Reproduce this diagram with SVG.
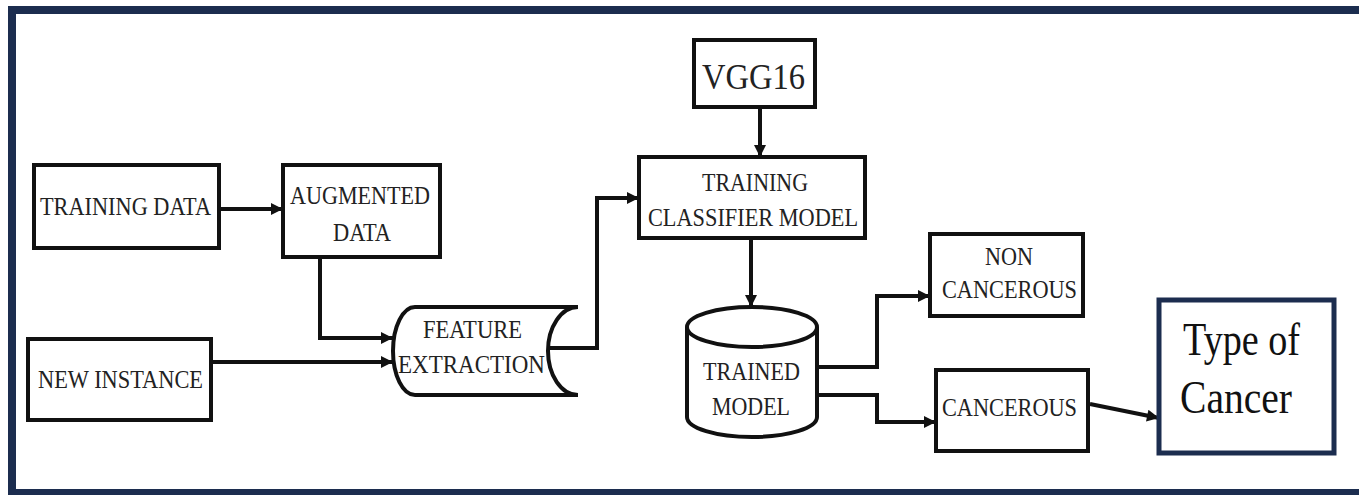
<svg xmlns="http://www.w3.org/2000/svg" width="1359" height="495" viewBox="0 0 1359 495">
<style>
.box{fill:#fff;stroke:#111;stroke-width:4}
text{font-family:'Liberation Serif','DejaVu Serif','Times New Roman',serif;font-size:25px;fill:#222;text-anchor:middle}
.c{fill:none;stroke:#111;stroke-width:4;marker-end:url(#ah)}
</style>
<defs>
<marker id="ah" viewBox="0 0 10 10" refX="10" refY="5" markerWidth="13" markerHeight="12" markerUnits="userSpaceOnUse" orient="auto">
<path d="M0,0 L10,5 L0,10 z" fill="#111"/>
</marker>
</defs>
<rect x="0" y="0" width="1359" height="495" fill="#fff"/>
<rect id="frame" x="12" y="10" width="1360" height="483" fill="none" stroke="#1c2d4f" stroke-width="8"/>

<g id="connectors">
<path class="c" d="M219,209 L283,209"/>
<path class="c" d="M320,257 L320,338 L393,338"/>
<path class="c" d="M211,362 L393,362"/>
<path class="c" d="M550,348 L597,348 L597,198 L639,198"/>
<path class="c" d="M760,107 L760,157"/>
<path class="c" d="M751,238 L751,307"/>
<path class="c" d="M817,367 L877,367 L877,296 L930,296"/>
<path class="c" d="M817,395 L877,395 L877,422 L936,422"/>
<path class="c" d="M1090,404 L1159,418"/>
</g>

<g id="training-data">
<rect class="box" x="34" y="165" width="185" height="83"/>
<text x="125.5" y="215" textLength="171" lengthAdjust="spacingAndGlyphs">TRAINING DATA</text>
</g>
<g id="augmented-data">
<rect class="box" x="283" y="165" width="157" height="92"/>
<text x="360" y="204" textLength="140" lengthAdjust="spacingAndGlyphs">AUGMENTED</text>
<text x="362" y="241" textLength="58" lengthAdjust="spacingAndGlyphs">DATA</text>
</g>
<g id="new-instance">
<rect class="box" x="28" y="339" width="183" height="81"/>
<text x="120.5" y="388" textLength="165" lengthAdjust="spacingAndGlyphs">NEW INSTANCE</text>
</g>
<g id="feature-extraction">
<path class="box" d="M415,307 L578,307 A30,44 0 0 0 578,395 L415,395 A22,44 0 0 1 415,307 Z"/>
<text x="472.5" y="338" textLength="99" lengthAdjust="spacingAndGlyphs">FEATURE</text>
<text x="471.5" y="373" textLength="147" lengthAdjust="spacingAndGlyphs">EXTRACTION</text>
</g>
<g id="vgg16">
<rect class="box" x="694" y="40" width="121" height="67"/>
<text x="753.5" y="89" style="font-size:36px" textLength="103" lengthAdjust="spacingAndGlyphs">VGG16</text>
</g>
<g id="training-classifier">
<rect class="box" x="639" y="157" width="226" height="81"/>
<text x="755" y="191" textLength="106" lengthAdjust="spacingAndGlyphs">TRAINING</text>
<text x="753" y="226" textLength="210" lengthAdjust="spacingAndGlyphs">CLASSIFIER MODEL</text>
</g>
<g id="trained-model">
<path class="box" d="M687,327 L687,417 A65,20 0 0 0 817,417 L817,327"/>
<ellipse class="box" cx="752" cy="327" rx="65" ry="20"/>
<text x="751.5" y="380" textLength="97" lengthAdjust="spacingAndGlyphs">TRAINED</text>
<text x="751" y="415" textLength="78" lengthAdjust="spacingAndGlyphs">MODEL</text>
</g>
<g id="non-cancerous">
<rect class="box" x="930" y="234" width="153" height="82"/>
<text x="1009" y="265" textLength="48" lengthAdjust="spacingAndGlyphs">NON</text>
<text x="1009.5" y="298" textLength="135" lengthAdjust="spacingAndGlyphs">CANCEROUS</text>
</g>
<g id="cancerous">
<rect class="box" x="936" y="370" width="152" height="81"/>
<text x="1009.5" y="416" textLength="135" lengthAdjust="spacingAndGlyphs">CANCEROUS</text>
</g>
<g id="type-of-cancer">
<rect x="1159" y="300" width="175" height="153" fill="#fff" stroke="#1c2d4f" stroke-width="5"/>
<text x="1183" y="355" style="font-size:47px;text-anchor:start;fill:#111" textLength="117" lengthAdjust="spacingAndGlyphs">Type of</text>
<text x="1180" y="413" style="font-size:47px;text-anchor:start;fill:#111" textLength="112" lengthAdjust="spacingAndGlyphs">Cancer</text>
</g>
</svg>
